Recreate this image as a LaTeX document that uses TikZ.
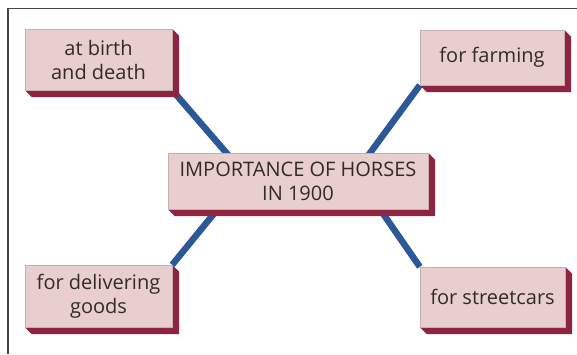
\documentclass[tikz,border=0pt]{standalone}
\usepackage{fontspec}
\setmainfont{Open Sans}
\usetikzlibrary{calc}
\pgfdeclarelayer{bg}
\pgfdeclarelayer{lines}
\pgfdeclarelayer{sides}
\pgfsetlayers{bg,lines,sides,main}
\definecolor{facepink}{RGB}{233,206,206}
\definecolor{sidered}{RGB}{140,36,66}
\definecolor{linkblue}{RGB}{44,88,152}
\definecolor{textgray}{RGB}{50,42,42}
\definecolor{framegray}{RGB}{70,70,70}
\tikzset{
  facebox/.style={fill=facepink, draw=facepink!85!black, line width=0.4pt,
    inner sep=0pt, align=center, text=textgray,
    font=\fontsize{20}{24}\selectfont},
  sideface/.style={fill=sidered},
  link/.style={draw=linkblue, line width=6.5pt},
}
\newcommand{\extrude}[1]{%
  \begin{pgfonlayer}{sides}
  \fill[sideface] (#1.north east) -- ($(#1.north east)+(7,7)$) -- ($(#1.south east)+(7,7)$)
    -- ($(#1.south west)+(7,7)$) -- (#1.south west) -- cycle;
  \end{pgfonlayer}}
\begin{document}
\begin{tikzpicture}[x=1pt,y=-1pt]
\useasboundingbox (0,0) rectangle (577,354);
\begin{pgfonlayer}{bg}
\fill[white] (0,0) rectangle (577,354);
\draw[framegray, line width=1.8pt] (8,354) -- (8,8.5) -- (577,8.5);
\end{pgfonlayer}

\node[facebox, minimum width=147pt, minimum height=61pt] (A) at (98.5,59.5) {at birth\\and death};
\node[facebox, minimum width=144pt, minimum height=55pt] (B) at (492,57.5) {for farming};
\node[facebox, minimum width=260pt, minimum height=56pt] (C) at (298,181) {IMPORTANCE OF HORSES\\IN 1900};
\node[facebox, minimum width=147pt, minimum height=62pt] (D) at (98.5,296) {for delivering\\goods};
\node[facebox, minimum width=145pt, minimum height=60pt] (E) at (492.5,297) {for streetcars};

\extrude{A}\extrude{B}\extrude{C}\extrude{D}\extrude{E}

\begin{pgfonlayer}{lines}
\draw[link] (A.south east) -- ($(C.north west)+(62,4)$);
\draw[link] (B.south west) -- ($(C.north east)+(-61,4)$);
\draw[link] ($(C.south west)+(53,-4)$) -- (D.north east);
\draw[link] ($(C.south east)+(-51,-4)$) -- (E.north west);
\end{pgfonlayer}
\end{tikzpicture}
\end{document}
